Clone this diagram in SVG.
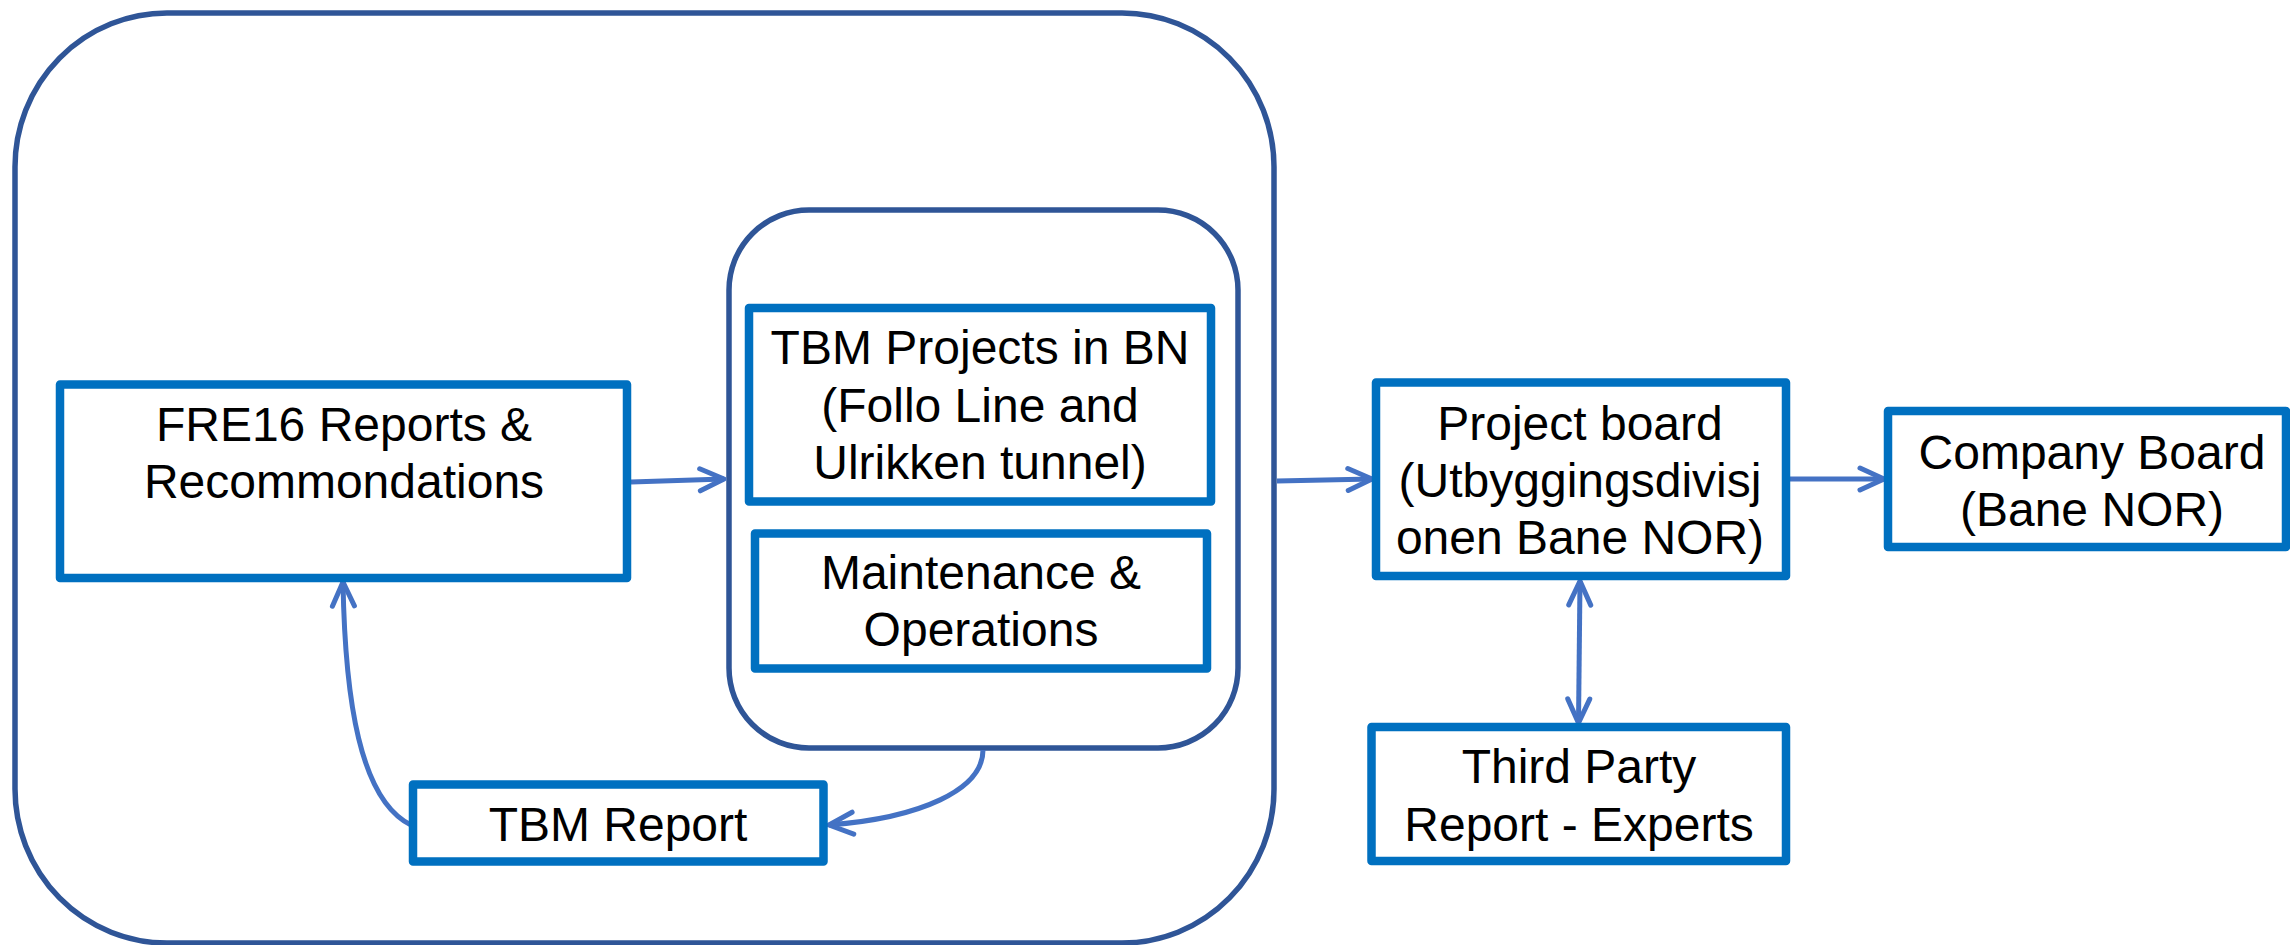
<svg xmlns="http://www.w3.org/2000/svg" width="2290" height="945" viewBox="0 0 2290 945">
<style>
.container{fill:none;stroke:#2F5597;stroke-width:5.5}
.box{fill:#FFFFFF;stroke:#0070C0;stroke-width:8.5;stroke-linejoin:round}
.lbl{font-family:"Liberation Sans",Arial,sans-serif;font-size:48px;fill:#000000;text-anchor:middle}
.conn{fill:none;stroke:#4472C4;stroke-width:5}
</style>
<defs>
<marker id="arr" markerUnits="userSpaceOnUse" markerWidth="40" markerHeight="40" viewBox="-30 -20 40 40" refX="0" refY="0" orient="auto-start-reverse" overflow="visible">
<path d="M-24,-11 L0,0 L-24,11" fill="none" stroke="#4472C4" stroke-width="5" stroke-linecap="round" stroke-linejoin="round"/>
</marker>
</defs>
<rect id="outer-container" class="container" x="15" y="13" width="1259" height="930" rx="152" ry="154"/>
<rect id="inner-container" class="container" x="729" y="210" width="509" height="538" rx="80" ry="80"/>
<g id="connectors">
<path class="conn" d="M631,482 L724,479" marker-end="url(#arr)"/>
<path class="conn" d="M1277,481 L1372,479" marker-end="url(#arr)"/>
<path class="conn" d="M1786,479 L1884,479" marker-end="url(#arr)"/>
<path class="conn" d="M1580,581 L1578.5,723" marker-start="url(#arr)" marker-end="url(#arr)"/>
<path class="conn" d="M411,825 C360,800 345,700 343,582" marker-end="url(#arr)"/>
<path class="conn" d="M983,750 C983,790 920,818 829,825" marker-end="url(#arr)"/>
</g>
<g id="fre16">
<rect class="box" x="60" y="384.5" width="567" height="193.5"/>
<text class="lbl" x="344" y="441">FRE16 Reports &amp;</text>
<text class="lbl" x="344" y="498">Recommondations</text>
</g>
<g id="tbm-projects">
<rect class="box" x="749" y="308" width="462" height="193.5"/>
<text class="lbl" x="980" y="364">TBM Projects in BN</text>
<text class="lbl" x="980" y="421.5">(Follo Line and</text>
<text class="lbl" x="980" y="478.5">Ulrikken tunnel)</text>
</g>
<g id="maintenance">
<rect class="box" x="755" y="533.5" width="452" height="135"/>
<text class="lbl" x="981" y="589">Maintenance &amp;</text>
<text class="lbl" x="981" y="646">Operations</text>
</g>
<g id="tbm-report">
<rect class="box" x="413" y="784.5" width="410.5" height="77"/>
<text class="lbl" x="618" y="840.5">TBM Report</text>
</g>
<g id="project-board">
<rect class="box" x="1376" y="382.5" width="410" height="193.5"/>
<text class="lbl" x="1580" y="439.5">Project board</text>
<text class="lbl" x="1580" y="496.5">(Utbyggingsdivisj</text>
<text class="lbl" x="1580" y="553.5">onen Bane NOR)</text>
</g>
<g id="company-board">
<rect class="box" x="1888" y="411" width="398" height="136"/>
<text class="lbl" x="2092" y="468.5">Company Board</text>
<text class="lbl" x="2092" y="525.5">(Bane NOR)</text>
</g>
<g id="third-party">
<rect class="box" x="1371.5" y="727" width="414.5" height="134"/>
<text class="lbl" x="1579" y="782.5">Third Party</text>
<text class="lbl" x="1579" y="840.5">Report - Experts</text>
</g>
</svg>
